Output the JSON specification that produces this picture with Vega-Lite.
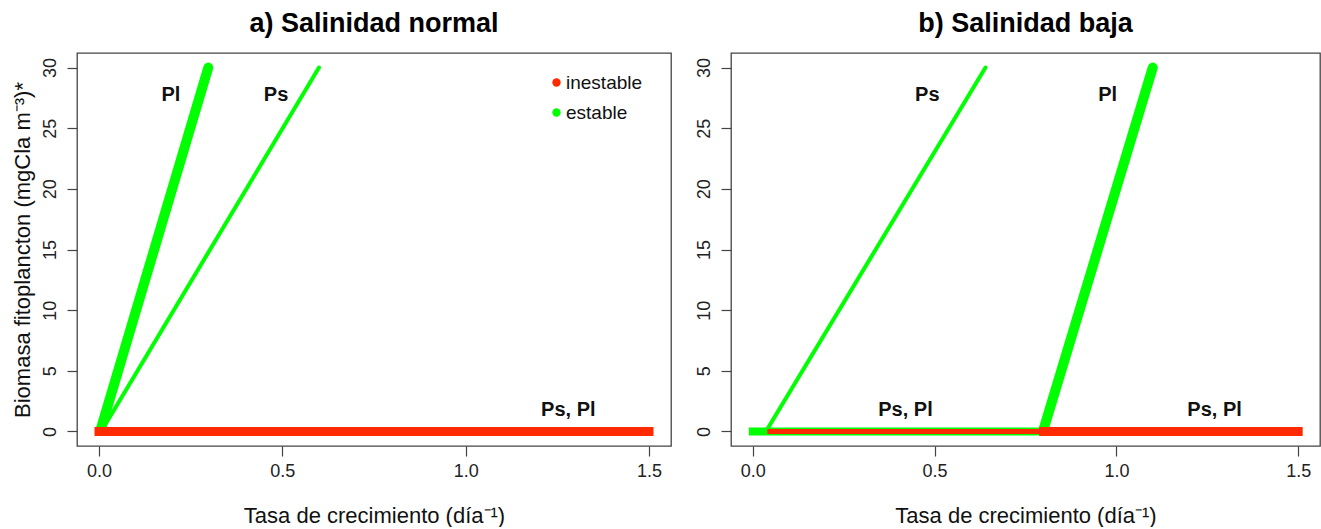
{
  "$schema": "https://vega.github.io/schema/vega-lite/v6.json",
  "padding": {"left": 10, "top": 8, "right": 0, "bottom": 0},
  "background": "white",
  "datasets": {
    "curvas": [
      {"panel": "a", "serie": "Pl", "estado": "estable", "tramo": "1", "tasa": 0.005, "biomasa": 0.2},
      {"panel": "a", "serie": "Pl", "estado": "estable", "tramo": "1", "tasa": 0.298, "biomasa": 30},
      {"panel": "a", "serie": "Ps", "estado": "estable", "tramo": "1", "tasa": 0.01, "biomasa": 0.2},
      {"panel": "a", "serie": "Ps", "estado": "estable", "tramo": "1", "tasa": 0.6, "biomasa": 30},
      {"panel": "a", "serie": "Ps, Pl", "estado": "inestable", "tramo": "2", "tasa": 0, "biomasa": 0},
      {"panel": "a", "serie": "Ps, Pl", "estado": "inestable", "tramo": "2", "tasa": 1.5, "biomasa": 0},
      {"panel": "b", "serie": "Ps", "estado": "estable", "tramo": "1", "tasa": 0.04, "biomasa": 0.2},
      {"panel": "b", "serie": "Ps", "estado": "estable", "tramo": "1", "tasa": 0.64, "biomasa": 30},
      {"panel": "b", "serie": "Pl", "estado": "estable", "tramo": "1", "tasa": 0.8, "biomasa": 0.2},
      {"panel": "b", "serie": "Pl", "estado": "estable", "tramo": "1", "tasa": 1.1, "biomasa": 30},
      {"panel": "b", "serie": "Ps, Pl", "estado": "estable", "tramo": "1", "tasa": 0, "biomasa": 0},
      {"panel": "b", "serie": "Ps, Pl", "estado": "estable", "tramo": "1", "tasa": 0.8, "biomasa": 0},
      {"panel": "b", "serie": "Ps, Pl", "estado": "inestable", "tramo": "1", "tasa": 0.04, "biomasa": 0},
      {"panel": "b", "serie": "Ps, Pl", "estado": "inestable", "tramo": "1", "tasa": 0.8, "biomasa": 0},
      {"panel": "b", "serie": "Ps, Pl", "estado": "inestable", "tramo": "2", "tasa": 0.8, "biomasa": 0},
      {"panel": "b", "serie": "Ps, Pl", "estado": "inestable", "tramo": "2", "tasa": 1.5, "biomasa": 0}
    ],
    "etiquetas": [
      {"panel": "a", "texto": "Pl", "tasa": 0.196, "biomasa": 27.7},
      {"panel": "a", "texto": "Ps", "tasa": 0.483, "biomasa": 27.7},
      {"panel": "a", "texto": "Ps, Pl", "tasa": 1.28, "biomasa": 1.8},
      {"panel": "b", "texto": "Ps", "tasa": 0.48, "biomasa": 27.7},
      {"panel": "b", "texto": "Pl", "tasa": 0.976, "biomasa": 27.7},
      {"panel": "b", "texto": "Ps, Pl", "tasa": 0.42, "biomasa": 1.8},
      {"panel": "b", "texto": "Ps, Pl", "tasa": 1.27, "biomasa": 1.8}
    ]
  },
  "config": {
    "font": "Liberation Sans",
    "view": {"stroke": "#444444", "strokeWidth": 1.3},
    "axis": {
      "domain": false,
      "grid": false,
      "ticks": true,
      "tickSize": 10,
      "tickColor": "#444444",
      "tickWidth": 1.2,
      "labelFont": "Liberation Sans",
      "labelFontSize": 18,
      "labelColor": "#222222",
      "titleFont": "Liberation Sans",
      "titleFontSize": 22,
      "titleFontWeight": "normal",
      "titleColor": "#111111"
    },
    "title": {
      "font": "Liberation Sans",
      "fontSize": 27,
      "fontWeight": "bold",
      "color": "#000000",
      "anchor": "middle",
      "baseline": "alphabetic",
      "offset": 10
    }
  },
  "bounds": "flush",
  "spacing": 60,
  "hconcat": [
    {
      "title": "a) Salinidad normal",
      "width": 594,
      "height": 393,
      "data": {"name": "curvas"},
      "transform": [{"filter": "datum.panel == 'a'"}],
      "encoding": {
        "x": {
          "field": "tasa", "type": "quantitative",
          "scale": {"domain": [-0.06, 1.56], "nice": false, "zero": false},
          "axis": {"values": [0, 0.5, 1, 1.5], "format": ".1f", "labelPadding": 6, "titlePadding": 25, "title": "Tasa de crecimiento (día⁻¹)"}
        },
        "y": {
          "field": "biomasa", "type": "quantitative",
          "scale": {"domain": [-1.2, 31.2], "nice": false, "zero": false},
          "axis": {"values": [0, 5, 10, 15, 20, 25, 30], "labelAngle": -90, "labelAlign": "center", "labelBaseline": "bottom", "labelPadding": 8, "titlePadding": 7, "title": "Biomasa fitoplancton (mgCla m⁻³)*"}
        }
      },
      "layer": [
        {
          "transform": [{"filter": "datum.serie == 'Ps'"}],
          "mark": {"type": "line", "strokeWidth": 4, "strokeCap": "round"},
          "encoding": {
            "color": {
              "field": "estado", "type": "nominal",
              "scale": {"domain": ["inestable", "estable"], "range": ["#ff2a00", "#00ff00"]},
              "legend": {
                "title": null, "orient": "none", "legendX": 470, "legendY": 20,
                "labelFont": "Liberation Sans", "labelFontSize": 19, "labelColor": "#111111",
                "symbolType": "circle", "symbolSize": 70, "symbolStrokeWidth": 0,
                "rowPadding": 10, "labelOffset": 0, "padding": 0,
                "encode": {"symbols": {"update": {"fill": {"scale": "color", "field": "value"}, "strokeWidth": {"value": 0}}}}
              }
            },
            "detail": {"field": "tramo"}
          }
        },
        {
          "transform": [{"filter": "datum.serie == 'Pl'"}],
          "mark": {"type": "line", "strokeWidth": 10, "strokeCap": "round"},
          "encoding": {"color": {"field": "estado", "type": "nominal"}, "detail": {"field": "tramo"}}
        },
        {
          "transform": [{"filter": "datum.serie == 'Ps, Pl' && datum.estado == 'inestable'"}],
          "mark": {"type": "line", "strokeWidth": 9, "strokeCap": "square"},
          "encoding": {"color": {"field": "estado", "type": "nominal"}, "detail": {"field": "tramo"}}
        },
        {
          "data": {"name": "etiquetas"},
          "transform": [{"filter": "datum.panel == 'a'"}],
          "mark": {"type": "text", "font": "Liberation Sans", "fontSize": 20, "fontWeight": "bold", "color": "#111111"},
          "encoding": {"text": {"field": "texto"}}
        }
      ]
    },
    {
      "title": "b) Salinidad baja",
      "width": 589,
      "height": 393,
      "data": {"name": "curvas"},
      "transform": [{"filter": "datum.panel == 'b'"}],
      "encoding": {
        "x": {
          "field": "tasa", "type": "quantitative",
          "scale": {"domain": [-0.06, 1.56], "nice": false, "zero": false},
          "axis": {"values": [0, 0.5, 1, 1.5], "format": ".1f", "labelPadding": 6, "titlePadding": 25, "title": "Tasa de crecimiento (día⁻¹)"}
        },
        "y": {
          "field": "biomasa", "type": "quantitative",
          "scale": {"domain": [-1.2, 31.2], "nice": false, "zero": false},
          "axis": {"values": [0, 5, 10, 15, 20, 25, 30], "labelAngle": -90, "labelAlign": "center", "labelBaseline": "bottom", "labelPadding": 8, "title": null}
        }
      },
      "layer": [
        {
          "transform": [{"filter": "datum.serie == 'Ps'"}],
          "mark": {"type": "line", "strokeWidth": 4, "strokeCap": "round"},
          "encoding": {"color": {"field": "estado", "type": "nominal"}, "detail": {"field": "tramo"}}
        },
        {
          "transform": [{"filter": "datum.serie == 'Pl'"}],
          "mark": {"type": "line", "strokeWidth": 10, "strokeCap": "round"},
          "encoding": {"color": {"field": "estado", "type": "nominal"}, "detail": {"field": "tramo"}}
        },
        {
          "transform": [{"filter": "datum.serie == 'Ps, Pl' && datum.estado == 'estable'"}],
          "mark": {"type": "line", "strokeWidth": 8, "strokeCap": "square"},
          "encoding": {"color": {"field": "estado", "type": "nominal"}, "detail": {"field": "tramo"}}
        },
        {
          "transform": [{"filter": "datum.serie == 'Ps, Pl' && datum.estado == 'inestable' && datum.tramo == '1'"}],
          "mark": {"type": "line", "strokeWidth": 5, "strokeCap": "butt"},
          "encoding": {"color": {"field": "estado", "type": "nominal"}, "detail": {"field": "tramo"}}
        },
        {
          "transform": [{"filter": "datum.serie == 'Ps, Pl' && datum.estado == 'inestable' && datum.tramo == '2'"}],
          "mark": {"type": "line", "strokeWidth": 9, "strokeCap": "square"},
          "encoding": {"color": {"field": "estado", "type": "nominal"}, "detail": {"field": "tramo"}}
        },
        {
          "data": {"name": "etiquetas"},
          "transform": [{"filter": "datum.panel == 'b'"}],
          "mark": {"type": "text", "font": "Liberation Sans", "fontSize": 20, "fontWeight": "bold", "color": "#111111"},
          "encoding": {"text": {"field": "texto"}}
        }
      ]
    }
  ]
}
